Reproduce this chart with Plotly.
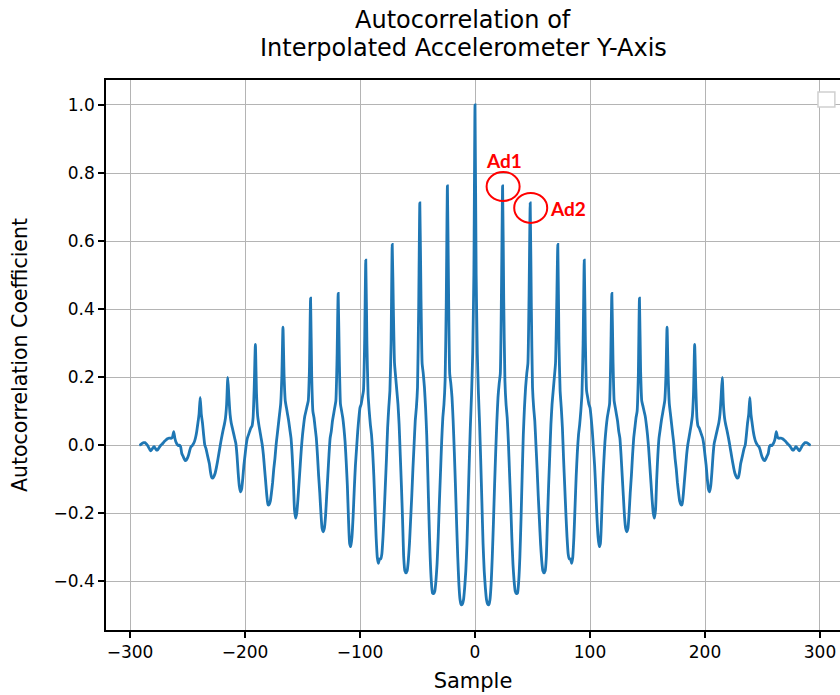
import plotly.graph_objects as go

# Autocorrelation coefficient for non-negative lags 0..292 (the ACF is even,
# so the negative lags are the mirror image).
acf_pos = [
    # lags 0-23
    1.000, 0.50, 0.27, 0.15, 0.06, -0.05, -0.17, -0.29, -0.37, -0.42, -0.455, -0.468,
    -0.470, -0.455, -0.41, -0.33, -0.23, -0.12, -0.02, 0.07, 0.14, 0.18, 0.21, 0.45,
    # lags 24-47
    0.762, 0.42, 0.19, 0.12, 0.08, 0.01, -0.08, -0.17, -0.27, -0.35, -0.40, -0.43,
    -0.437, -0.435, -0.40, -0.33, -0.22, -0.09, 0.03, 0.11, 0.17, 0.21, 0.24, 0.44,
    # lags 48-71
    0.712, 0.40, 0.17, 0.11, 0.07, 0.00, -0.07, -0.15, -0.22, -0.29, -0.34, -0.37,
    -0.376, -0.37, -0.33, -0.22, -0.12, -0.03, 0.06, 0.12, 0.16, 0.20, 0.24, 0.40,
    # lags 72-94
    0.590, 0.30, 0.16, 0.11, 0.05, -0.04, -0.12, -0.20, -0.27, -0.32, -0.335, -0.335,
    -0.348, -0.33, -0.27, -0.18, -0.09, -0.02, 0.03, 0.06, 0.10, 0.15, 0.30,
    # lags 95-118
    0.544, 0.30, 0.16, 0.14, 0.12, 0.11, 0.08, 0.04, -0.01, -0.06, -0.13, -0.21,
    -0.27, -0.299, -0.29, -0.22, -0.12, -0.05, 0.01, 0.05, 0.08, 0.10, 0.12, 0.25,
    # lags 119-142
    0.446, 0.25, 0.13, 0.11, 0.09, 0.07, 0.04, 0.02, -0.03, -0.09, -0.15, -0.21,
    -0.245, -0.255, -0.245, -0.20, -0.14, -0.09, -0.03, 0.02, 0.05, 0.08, 0.10, 0.20,
    # lags 143-166
    0.432, 0.22, 0.13, 0.115, 0.10, 0.085, 0.06, 0.03, -0.01, -0.06, -0.11, -0.16,
    -0.20, -0.215, -0.19, -0.10, -0.03, 0.02, 0.045, 0.07, 0.09, 0.11, 0.13, 0.20,
    # lags 167-190
    0.347, 0.20, 0.12, 0.09, 0.06, 0.03, 0.00, -0.04, -0.07, -0.11, -0.14, -0.165,
    -0.175, -0.176, -0.15, -0.11, -0.07, -0.03, 0.00, 0.02, 0.04, 0.06, 0.085, 0.15,
    # lags 191-214
    0.296, 0.17, 0.08, 0.055, 0.05, 0.04, 0.03, 0.02, 0.00, -0.03, -0.06, -0.10,
    -0.13, -0.138, -0.12, -0.08, -0.03, 0.005, 0.02, 0.035, 0.05, 0.065, 0.09, 0.14,
    # lags 215-238
    0.199, 0.12, 0.08, 0.06, 0.045, 0.028, 0.01, -0.01, -0.03, -0.05, -0.068, -0.083,
    -0.092, -0.097, -0.095, -0.08, -0.055, -0.04, -0.025, -0.01, 0.0, 0.03, 0.065, 0.09,
    # lags 239-261
    0.140, 0.09, 0.064, 0.04, 0.022, 0.01, 0.003, -0.002, -0.005, -0.015, -0.028, -0.038,
    -0.044, -0.046, -0.04, -0.032, -0.025, -0.005, 0.0, -0.002, 0.002, 0.008, 0.02,
    # lags 262-292
    0.039, 0.024, 0.02, 0.02, 0.02, 0.019, 0.017, 0.014, 0.011, 0.007, 0.003, 0.0,
    -0.004, -0.009, -0.014, -0.015, -0.01, -0.005, -0.008, -0.013, -0.017, -0.012,
    -0.006, 0.0, 0.004, 0.007, 0.007, 0.006, 0.003, 0.001, 0.0,
]
lag_pos = list(range(len(acf_pos)))

# Full symmetric lag axis
lags = [-l for l in reversed(lag_pos[1:])] + lag_pos
acf = list(reversed(acf_pos[1:])) + acf_pos

x_ticks = [-300, -200, -100, 0, 100, 200, 300]
y_ticks = [-0.4, -0.2, 0.0, 0.2, 0.4, 0.6, 0.8, 1.0]

# Highlighted peaks: (label, lag)
marked = [("Ad1", 24), ("Ad2", 48)]

title_lines = ["Autocorrelation of", "Interpolated Accelerometer Y-Axis"]

FONT = "DejaVu Sans"
GRID = "#b4b4b4"

fig = go.Figure()
fig.add_trace(go.Scatter(
    x=lags, y=acf, mode="lines",
    line=dict(color="#1f77b4", width=2.8, shape="spline", smoothing=0.5),
    showlegend=False, hoverinfo="skip",
))

# Red circles around the marked peaks
circle_offsets = {"Ad1": (-16, 17, -15, 14), "Ad2": (-16, 17, -20, 10)}
text_shift = {"Ad1": (1, 25), "Ad2": (38, -6)}
for name, lg in marked:
    val = acf_pos[lg]
    x0, x1, y0, y1 = circle_offsets[name]
    fig.add_shape(
        type="circle", xref="x", yref="y",
        xsizemode="pixel", ysizemode="pixel",
        xanchor=lg, yanchor=val, x0=x0, x1=x1, y0=y0, y1=y1,
        line=dict(color="#ff0000", width=2),
    )
    dx, dy = text_shift[name]
    fig.add_annotation(
        x=lg, y=val, xref="x", yref="y", text=f"<b>{name}</b>",
        showarrow=False, xshift=dx, yshift=dy,
        font=dict(family="Lato", size=19, color="#ff0000"),
    )

# Two-line title above the plot area
for line_text, ypos in zip(title_lines, [1.1091, 1.0582]):
    fig.add_annotation(
        x=(463 - 106) / 734, y=ypos, xref="paper", yref="paper",
        xanchor="center", yanchor="middle", showarrow=False,
        text=line_text, font=dict(family=FONT, size=24, color="#000000"),
    )

# Empty legend frame in the upper-right corner
fig.add_shape(
    type="rect", xref="paper", yref="paper",
    x0=0.970, x1=0.993, y0=0.951, y1=0.978,
    line=dict(color="#d0d0d0", width=1.5), fillcolor="white",
)

fig.update_layout(
    width=840, height=695,
    margin=dict(l=106, r=0, t=80, b=65),
    paper_bgcolor="white", plot_bgcolor="white",
    font=dict(family=FONT, color="#000000"),
)
fig.update_xaxes(
    range=[-320.9, 317.4], tickvals=x_ticks,
    showgrid=True, gridcolor=GRID, gridwidth=1.4, zeroline=False,
    showline=True, linecolor="black", linewidth=1.5, mirror=True,
    ticks="outside", ticklen=6, tickwidth=1.5, tickcolor="black",
    tickfont=dict(family=FONT, size=17),
    title=dict(text="Sample", font=dict(family=FONT, size=21), standoff=12),
)
fig.update_yaxes(
    range=[-0.544, 1.0735], tickvals=y_ticks, tickformat=".1f",
    showgrid=True, gridcolor=GRID, gridwidth=1.4, zeroline=False,
    showline=True, linecolor="black", linewidth=1.5, mirror=False,
    ticks="outside", ticklen=6, tickwidth=1.5, tickcolor="black",
    tickfont=dict(family=FONT, size=17),
    title=dict(text="Autocorrelation Coefficient", font=dict(family=FONT, size=20.5), standoff=20),
)

fig.write_html("out.html")
